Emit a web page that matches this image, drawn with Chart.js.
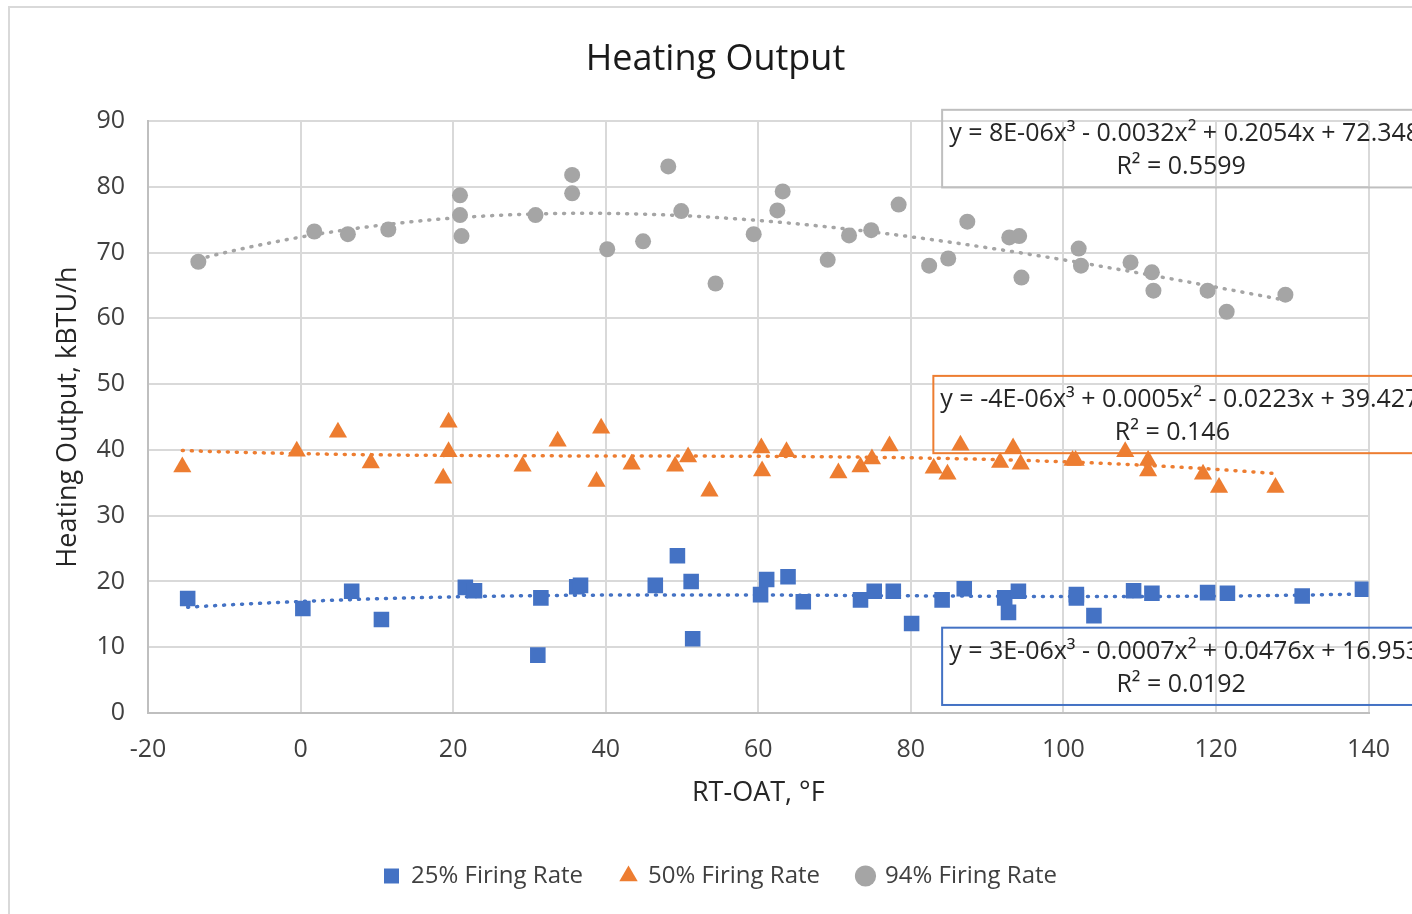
<!DOCTYPE html>
<html>

<head>
    <title>Heating Output</title>
    <script src="https://cdn.jsdelivr.net/npm/chart.js@4.4.0/dist/chart.umd.min.js"></script>
    <style>
        body { margin: 0; background: #fff; }
        #wrap { width: 1412px; height: 914px; position: relative; }
    </style>
</head>

<body>
    <div id="wrap"><canvas id="heatChart"></canvas></div>

    <script>
        // Series names
        var seriesNames = ['25% Firing Rate', '50% Firing Rate', '94% Firing Rate'];

        // 25% firing rate (RT-OAT, heating output)
        var x25 = [-14.8, 0.3, 6.7, 10.6, 21.6, 22.8, 31.5, 31.1, 36.2, 36.7, 46.5, 49.4, 51.2, 51.4, 60.3, 61.1, 63.9, 65.9,
            73.4, 75.2, 77.7, 80.1, 84.1, 87.0, 92.3, 92.8, 94.1, 101.7, 101.7, 104.0, 109.2, 111.6, 118.9, 121.5, 131.3, 139.2];
        var y25 = [17.4, 15.9, 18.5, 14.2, 19.1, 18.6, 17.5, 8.8, 19.2, 19.4, 19.4, 23.9, 20.0, 11.3, 18.0, 20.3, 20.7, 16.9,
            17.2, 18.5, 18.5, 13.6, 17.2, 18.9, 17.5, 15.3, 18.5, 18.0, 17.5, 14.8, 18.6, 18.2, 18.3, 18.2, 17.8, 18.8];

        // 50% firing rate
        var x50 = [-15.5, -0.5, 4.9, 9.2, 18.7, 19.4, 19.4, 29.1, 33.7, 38.8, 39.4, 43.4, 49.1, 50.8, 53.6, 60.4, 60.5, 63.7,
            70.5, 73.4, 74.9, 77.2, 83.0, 84.8, 86.5, 91.7, 93.4, 94.4, 101.2, 101.6, 108.1, 111.1, 111.1, 118.3, 120.4, 127.8];
        var y50 = [37.4, 39.8, 42.7, 38.0, 35.7, 44.2, 39.7, 37.5, 41.3, 35.2, 43.3, 37.8, 37.5, 38.9, 33.7, 40.3, 36.8, 39.7,
            36.5, 37.4, 38.6, 40.6, 37.2, 36.3, 40.7, 38.1, 40.3, 37.8, 38.4, 38.4, 39.7, 38.4, 36.8, 36.3, 34.3, 34.3];

        // 94% firing rate
        var x94 = [-13.4, 1.8, 6.2, 11.5, 20.9, 20.9, 21.1, 30.8, 35.6, 35.6, 40.2, 44.9, 48.2, 49.9, 54.4, 59.4, 62.5, 63.2,
            69.1, 71.9, 74.8, 78.4, 82.4, 84.9, 87.4, 92.9, 94.2, 94.5, 102.0, 102.3, 108.8, 111.6, 111.8, 118.9, 121.4, 129.1];
        var y94 = [68.6, 73.2, 72.8, 73.5, 78.7, 75.7, 72.5, 75.7, 81.8, 79.0, 70.5, 71.7, 83.1, 76.3, 65.3, 72.8, 76.4, 79.3,
            68.9, 72.6, 73.4, 77.3, 68.0, 69.1, 74.7, 72.3, 72.5, 66.2, 70.6, 68.0, 68.5, 67.0, 64.2, 64.2, 61.0, 63.6];

        // Trendline coefficients as printed on the chart: c0 + c1*x + c2*x^2 + c3*x^3
        var fit25 = [16.953, 0.0476, -0.0007, 3e-6];
        var fit50 = [39.427, -0.0223, 0.0005, -4e-6];
        var fit94 = [72.348, 0.2054, -0.0032, 8e-6];

        // Equation labels
        var eq25 = ['y = 3E-06x³ - 0.0007x² + 0.0476x + 16.953', 'R² = 0.0192'];
        var eq50 = ['y = -4E-06x³ + 0.0005x² - 0.0223x + 39.427', 'R² = 0.146'];
        var eq94 = ['y = 8E-06x³ - 0.0032x² + 0.2054x + 72.348', 'R² = 0.5599'];

        // Axis ticks
        var xTicks = [-20, 0, 20, 40, 60, 80, 100, 120, 140];
        var yTicks = [0, 10, 20, 30, 40, 50, 60, 70, 80, 90];

        var BLUE = '#4472C4', ORANGE = '#ED7D31', GRAY = '#A5A5A5';
        var FONT = "'Open Sans', sans-serif";

        function toPoints(xs, ys) {
            return xs.map(function (x, i) { return { x: x, y: ys[i] }; });
        }

        // evaluate the printed polynomial over the series' x range
        function trend(coef, xs) {
            var lo = Math.min.apply(null, xs), hi = Math.max.apply(null, xs);
            var pts = [];
            for (var i = 0; i <= 80; i++) {
                var x = lo + (hi - lo) * i / 80;
                pts.push({ x: x, y: coef[0] + coef[1] * x + coef[2] * x * x + coef[3] * x * x * x });
            }
            return pts;
        }

        function trendSet(coef, xs, color) {
            return {
                label: 'trend', data: trend(coef, xs), showLine: true, pointRadius: 0,
                borderColor: color, borderWidth: 3.5, borderDash: [1, 8], borderCapStyle: 'round',
                order: 1, isTrend: true
            };
        }

        // chart frame and the equation boxes
        var boxes = [
            { text: eq94, color: '#bfbfbf', x: 84.1, top: 91.7, bottom: 79.9 },
            { text: eq50, color: ORANGE, x: 82.95, top: 51.25, bottom: 39.5 },
            { text: eq25, color: BLUE, x: 84.1, top: 12.97, bottom: 1.22 }
        ];

        var decorPlugin = {
            id: 'decor',
            afterLayout: function (chart) {
                // the original frame is wider than the crop, so title and legend sit right of centre
                chart.titleBlock.left += 16; chart.titleBlock.right += 16;
                chart.legend.left += 21; chart.legend.right += 21;
            },
            beforeDraw: function (chart) {
                var c = chart.ctx;
                c.save();
                c.strokeStyle = '#d9d9d9';
                c.lineWidth = 2;
                c.strokeRect(9, 7, 1500, 1000);
                c.restore();
            },
            afterDraw: function (chart) {
                var c = chart.ctx, xs = chart.scales.x, ys = chart.scales.y;
                c.save();
                boxes.forEach(function (b) {
                    var left = xs.getPixelForValue(b.x);
                    var top = ys.getPixelForValue(b.top);
                    var bottom = ys.getPixelForValue(b.bottom);
                    c.strokeStyle = b.color;
                    c.lineWidth = 2;
                    c.strokeRect(left, top, 600, bottom - top);
                    c.fillStyle = '#262626';
                    c.font = '25px ' + FONT;
                    c.textBaseline = 'middle';
                    c.textAlign = 'left';
                    c.fillText(b.text[0], left + 7, top + 24);
                    c.textAlign = 'center';
                    c.fillText(b.text[1], left + 239, top + 57);
                });
                c.restore();
            }
        };

        var ctx = document.getElementById('heatChart').getContext('2d');
        var chart = new Chart(ctx, {
            type: 'scatter',
            data: {
                datasets: [
                    { label: seriesNames[0], data: toPoints(x25, y25), pointStyle: 'rect', pointRadius: 11, pointHoverRadius: 11,
                      backgroundColor: BLUE, borderColor: BLUE, borderWidth: 0, order: 0 },
                    { label: seriesNames[1], data: toPoints(x50, y50), pointStyle: 'triangle', pointRadius: 10.5, pointHoverRadius: 10.5,
                      backgroundColor: ORANGE, borderColor: ORANGE, borderWidth: 0, order: 0 },
                    { label: seriesNames[2], data: toPoints(x94, y94), pointStyle: 'circle', pointRadius: 8, pointHoverRadius: 8,
                      backgroundColor: GRAY, borderColor: GRAY, borderWidth: 0, order: 0 },
                    trendSet(fit25, x25, BLUE),
                    trendSet(fit50, x50, ORANGE),
                    trendSet(fit94, x94, GRAY)
                ]
            },
            options: {
                responsive: true,
                maintainAspectRatio: false,
                animation: false,
                layout: { padding: { left: 30, right: 43, top: 0, bottom: 16 } },
                plugins: {
                    title: {
                        display: true, text: 'Heating Output', color: '#1a1a1a',
                        font: { family: FONT, size: 36, weight: 'normal' },
                        padding: { top: 38, bottom: 39.8 }
                    },
                    legend: {
                        position: 'bottom',
                        labels: {
                            usePointStyle: true, boxWidth: 15, boxHeight: 15, padding: 38, color: '#404040',
                            font: { family: FONT, size: 24 },
                            filter: function (item, data) { return !data.datasets[item.datasetIndex].isTrend; }
                        }
                    },
                    tooltip: { enabled: false }
                },
                scales: {
                    x: {
                        type: 'linear', min: -20, max: 140,
                        afterBuildTicks: function (s) { s.ticks = xTicks.map(function (v) { return { value: v }; }); },
                        afterFit: function (s) { s.height = 113; },
                        grid: { color: '#d9d9d9', lineWidth: 2, drawTicks: false },
                        border: { color: '#bfbfbf', width: 2 },
                        ticks: { padding: 22, color: '#404040', font: { family: FONT, size: 25 } },
                        title: { display: true, text: 'RT-OAT, °F', color: '#262626', padding: { top: 0, bottom: 16.5 },
                                 font: { family: FONT, size: 27 } }
                    },
                    y: {
                        type: 'linear', min: 0, max: 90,
                        afterBuildTicks: function (s) { s.ticks = yTicks.map(function (v) { return { value: v }; }); },
                        afterFit: function (s) { s.width = 118; },
                        grid: { color: '#d9d9d9', lineWidth: 2, drawTicks: false },
                        border: { color: '#bfbfbf', width: 2 },
                        ticks: { padding: 23, color: '#404040', font: { family: FONT, size: 25 } },
                        title: { display: true, text: 'Heating Output, kBTU/h', color: '#262626', padding: { top: 22, bottom: 0 },
                                 font: { family: FONT, size: 27 } }
                    }
                }
            },
            plugins: [decorPlugin]
        });
    </script>
</body>

</html>
